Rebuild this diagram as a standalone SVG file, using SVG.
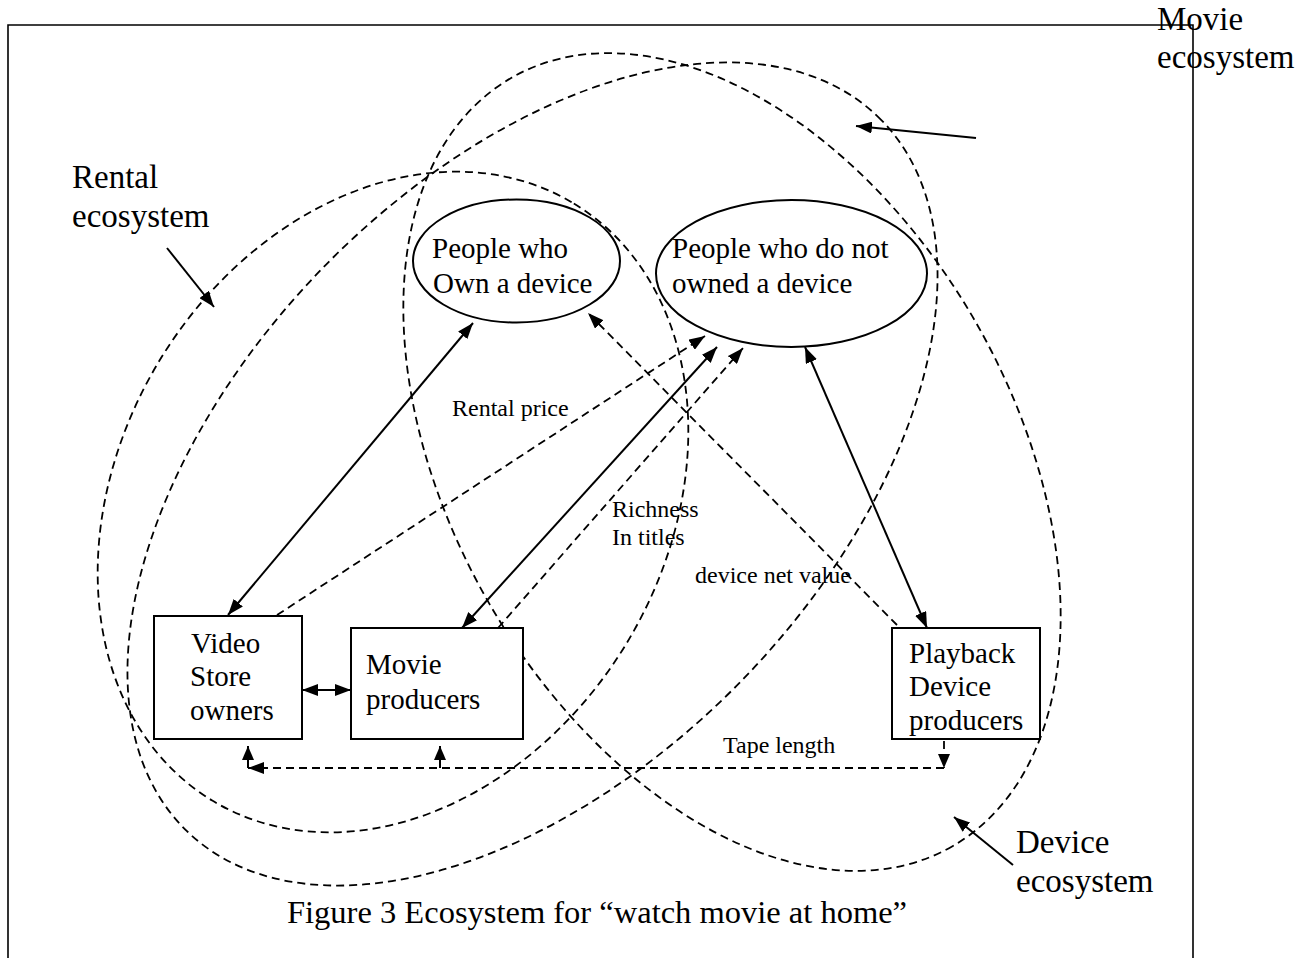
<svg xmlns="http://www.w3.org/2000/svg" width="1312" height="958" viewBox="0 0 1312 958">
<style>
text{font-family:"Liberation Serif","Times New Roman",serif;fill:#000}
.big{font-size:33px}
.node{font-size:29px}
.lbl{font-size:24px}
.cap{font-size:32.5px}
.eco{fill:none;stroke:#000;stroke-width:1.8;stroke-dasharray:8 5}
.sol{fill:#fff;stroke:#000;stroke-width:2}
.ln{fill:none;stroke:#000;stroke-width:2}
.dl{fill:none;stroke:#000;stroke-width:1.8;stroke-dasharray:8 5}
</style>
<defs>
<marker id="ah" markerUnits="userSpaceOnUse" markerWidth="16" markerHeight="12" refX="16" refY="6" orient="auto-start-reverse" viewBox="0 0 16 12">
<path d="M0,0 L16,6 L0,12 z" fill="#000"/>
</marker>
<marker id="sh" markerUnits="userSpaceOnUse" markerWidth="14" markerHeight="12" refX="14" refY="6" orient="auto" viewBox="0 0 14 12">
<path d="M0,0 L14,6 L0,12 z" fill="#000"/>
</marker>
</defs>
<rect width="1312" height="958" fill="#fff"/>
<path d="M8,960 V25 H1193 V960" fill="none" stroke="#000" stroke-width="1.6"/>

<g id="ecosystems">
<ellipse id="rental-eco" class="eco" cx="0" cy="0" rx="349" ry="273" transform="translate(393,502) rotate(-58.8)"/>
<ellipse id="movie-eco" class="eco" cx="0" cy="0" rx="497" ry="294" transform="translate(532.5,474) rotate(-45.95)"/>
<ellipse id="device-eco" class="eco" cx="0" cy="0" rx="443" ry="281" transform="translate(732,462) rotate(60.15)"/>
</g>

<g id="n-own">
<ellipse class="sol" cx="516.5" cy="261" rx="103.5" ry="61.5" style="fill:none"/>
<text class="node" x="432" y="258">People who</text>
<text class="node" x="433" y="293">Own a device</text>
</g>
<g id="n-notown">
<ellipse class="sol" cx="791.5" cy="273.5" rx="135.5" ry="73.5" style="fill:none"/>
<text class="node" x="672" y="258">People who do not</text>
<text class="node" x="672" y="293">owned a device</text>
</g>
<g id="n-video">
<rect class="sol" x="154" y="616" width="148" height="123"/>
<text class="node" x="191" y="653">Video</text>
<text class="node" x="190" y="686">Store</text>
<text class="node" x="190" y="720">owners</text>
</g>
<g id="n-movie">
<rect class="sol" x="351" y="628" width="172" height="111"/>
<text class="node" x="366" y="674">Movie</text>
<text class="node" x="366" y="709">producers</text>
</g>
<g id="n-playback">
<rect class="sol" x="892" y="628" width="148" height="111"/>
<text class="node" x="909" y="663">Playback</text>
<text class="node" x="909" y="696">Device</text>
<text class="node" x="909" y="730">producers</text>
</g>

<g id="connectors">
<line class="ln" x1="228" y1="615" x2="473" y2="323" marker-start="url(#ah)" marker-end="url(#ah)"/>
<line class="ln" x1="462" y1="628" x2="717" y2="347" marker-start="url(#ah)" marker-end="url(#ah)"/>
<line class="ln" x1="927" y1="628" x2="805" y2="347" marker-start="url(#ah)" marker-end="url(#ah)"/>
<line class="ln" x1="302" y1="690" x2="351" y2="690" marker-start="url(#ah)" marker-end="url(#ah)"/>
<line class="dl" x1="277" y1="615" x2="705" y2="336" marker-end="url(#ah)"/>
<line class="dl" x1="498" y1="628" x2="743" y2="348" marker-end="url(#ah)"/>
<line class="dl" x1="897" y1="625" x2="588" y2="313" marker-end="url(#ah)"/>
<line class="dl" x1="944" y1="741" x2="944" y2="768" marker-end="url(#sh)"/>
<line class="dl" x1="944" y1="768" x2="248" y2="768" marker-end="url(#ah)"/>
<line class="ln" x1="248" y1="768" x2="248" y2="746" stroke-width="1.6" marker-end="url(#sh)"/>
<line class="ln" x1="440" y1="768" x2="440" y2="746" stroke-width="1.6" marker-end="url(#sh)"/>
<line class="ln" x1="167" y1="248" x2="214" y2="307" marker-end="url(#ah)"/>
<line class="ln" x1="976" y1="138" x2="856" y2="126" marker-end="url(#ah)"/>
<line class="ln" x1="1013" y1="865" x2="954" y2="817" marker-end="url(#ah)"/>
</g>

<g id="labels">
<text class="big" x="72" y="188">Rental</text>
<text class="big" x="72" y="227">ecosystem</text>
<text class="big" x="1157" y="30">Movie</text>
<text class="big" x="1157" y="68">ecosystem</text>
<text class="big" x="1016" y="853">Device</text>
<text class="big" x="1016" y="892">ecosystem</text>
<text class="lbl" x="452" y="416">Rental price</text>
<text class="lbl" x="612" y="517">Richness</text>
<text class="lbl" x="612" y="545">In titles</text>
<text class="lbl" x="695" y="583">device net value</text>
<text class="lbl" x="723" y="753">Tape length</text>
<text class="cap" x="287" y="923">Figure 3 Ecosystem for “watch movie at home”</text>
</g>
</svg>
